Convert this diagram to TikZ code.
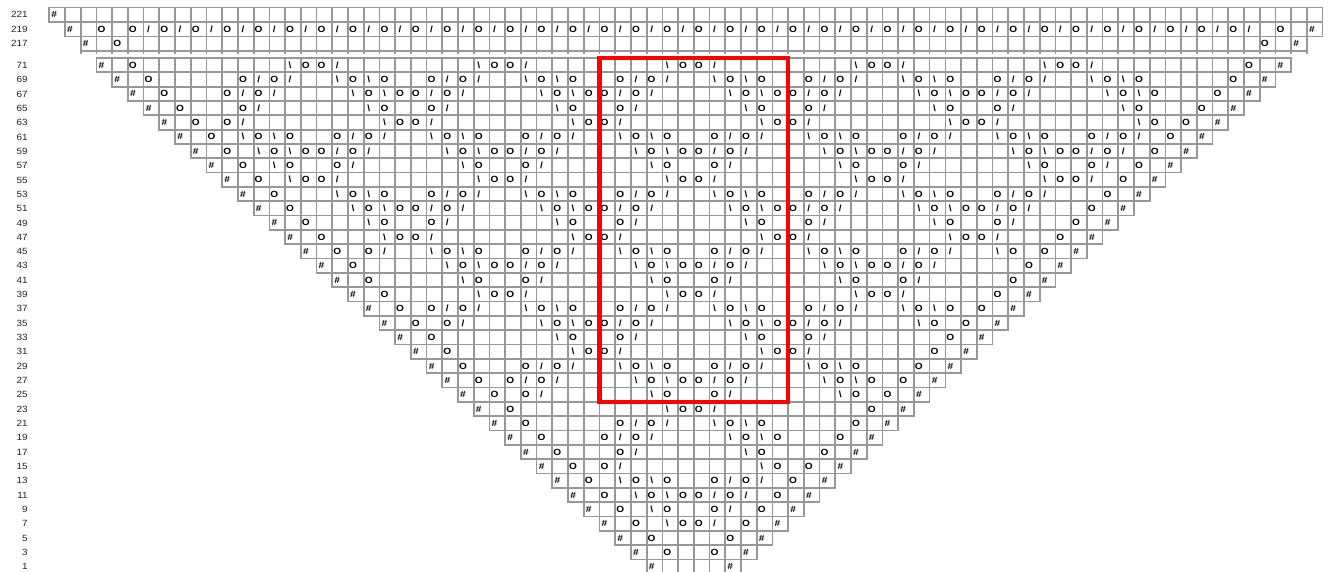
\documentclass[tikz,border=0pt]{standalone}
\usepackage{fontspec}
\setmainfont{Liberation Sans}
\newfontfamily\glyfont{Liberation Sans}[FakeStretch=1.12]
\newfontfamily\labfont{Liberation Sans}[FakeStretch=1.1]
\definecolor{gridgray}{HTML}{979797}
\definecolor{labgray}{HTML}{222222}
\def\XO{49.3}
\def\CW{15.72}
\newcommand\placeglyph[1]{%
  \pgfmathsetmacro\gxx{\XO+\CW*\mypc+5.0}%
  \if#1h\node[gly] (g\rowname-\mypc) at (\gxx,\gyy) {\#};\fi
  \if#1o\node[gly] (g\rowname-\mypc) at (\gxx,\gyy) {O};\fi
  \if#1l\node[gly] (g\rowname-\mypc) at (\gxx,\gyy) {/};\fi
  \if#1r\node[gly] (g\rowname-\mypc) at (\gxx,\gyy) {\textbackslash};\fi
}
\def\placechars#1{\ifx#1\relax\else\placeglyph{#1}\pgfmathtruncatemacro\mypc{\mypc+1}\expandafter\placechars\fi}
\def\placestr#1#2{\edef\mypc{#1}\expandafter\placechars#2\relax}
\newcommand\chartrow[6]{%
  \pgfmathsetmacro\rTop{#2}%
  \pgfmathsetmacro\rBot{#2+#3}%
  \pgfmathsetmacro\rMid{#2+#3/2}%
  \pgfmathsetmacro\gyy{\rMid+3.1}%
  \pgfmathsetmacro\rXa{\XO+\CW*#4}%
  \pgfmathsetmacro\rXb{\XO+\CW*(#5+1)}%
  \pgfmathtruncatemacro\rEnd{#5+1}%
  \def\rowname{#1}%
  \draw[gridl] (\rXa,\rTop) -- (\rXb,\rTop) (\rXa,\rBot) -- (\rXb,\rBot)
     foreach \cc in {#4,...,\rEnd}{({\XO+\CW*\cc},\rTop) -- ({\XO+\CW*\cc},\rBot)};
  \node[rowlab] (lab#1) at (27.8,\rMid+3.2) {#1};
  \foreach \cpos/\cstr in {#6}{\placestr{\cpos}{\cstr}}%
}
\newcommand\mainrow[3]{%
  \pgfmathtruncatemacro\mCa{3+#1}\pgfmathtruncatemacro\mCb{78-#1}%
  \pgfmathtruncatemacro\mOa{5+#1}\pgfmathtruncatemacro\mOb{76-#1}%
  \edef\mytmp{\noexpand\chartrow{#2}{58+14.33*#1}{14.33}{\mCa}{\mCb}{\mCa/h,\mOa/o,\mOb/o,\mCb/h#3}}%
  \mytmp}
\begin{document}
\begin{tikzpicture}[x=1pt,y=-1pt,
  gridl/.style={draw=gridgray,line width=1.7pt,line cap=rect},
  gly/.style={inner sep=0pt,anchor=base,font={\fontsize{9}{10}\glyfont\bfseries}},
  rowlab/.style={inner sep=0pt,anchor=base east,text=labgray,font={\fontsize{9}{10}\labfont}},
  redbox/.style={draw=red,line width=4.3pt}]
\useasboundingbox (0,0) rectangle (1333,571);
\chartrow{221}{7.5}{14.5}{0}{80}{0/h}
\chartrow{219}{22}{14.5}{1}{80}{1/h,3/o,5/olololol,13/olololol,21/olololol,29/olololol,37/olololol,45/olololol,53/olololol,61/olololol,69/olololol,78/o,80/h}
\chartrow{217}{36.5}{14.5}{2}{79}{2/h,4/o,77/o,79/h}
\draw[gridl] foreach \cc in {2,...,80} {({\XO+\CW*\cc},51) -- ({\XO+\CW*\cc},53)};
\mainrow{0}{71}{,15/rool,27/rool,39/rool,51/rool,63/rool}
\mainrow{1}{69}{,12/olol,18/roro,24/olol,30/roro,36/olol,42/roro,48/olol,54/roro,60/olol,66/roro}
\mainrow{2}{67}{,11/olol,19/roroolol,31/roroolol,43/roroolol,55/roroolol,67/roro}
\mainrow{3}{65}{,12/ol,20/ro,24/ol,32/ro,36/ol,44/ro,48/ol,56/ro,60/ol,68/ro}
\mainrow{4}{63}{,11/ol,21/rool,33/rool,45/rool,57/rool,69/ro}
\mainrow{5}{61}{,12/roro,18/olol,24/roro,30/olol,36/roro,42/olol,48/roro,54/olol,60/roro,66/olol}
\mainrow{6}{59}{,13/roroolol,25/roroolol,37/roroolol,49/roroolol,61/roroolol}
\mainrow{7}{57}{,14/ro,18/ol,26/ro,30/ol,38/ro,42/ol,50/ro,54/ol,62/ro,66/ol}
\mainrow{8}{55}{,15/rool,27/rool,39/rool,51/rool,63/rool}
\mainrow{9}{53}{,18/roro,24/olol,30/roro,36/olol,42/roro,48/olol,54/roro,60/olol}
\mainrow{10}{51}{,19/roroolol,31/roroolol,43/roroolol,55/roroolol}
\mainrow{11}{49}{,20/ro,24/ol,32/ro,36/ol,44/ro,48/ol,56/ro,60/ol}
\mainrow{12}{47}{,21/rool,33/rool,45/rool,57/rool}
\mainrow{13}{45}{,20/ol,24/roro,30/olol,36/roro,42/olol,48/roro,54/olol,60/ro}
\mainrow{14}{43}{,25/roroolol,37/roroolol,49/roroolol}
\mainrow{15}{41}{,26/ro,30/ol,38/ro,42/ol,50/ro,54/ol}
\mainrow{16}{39}{,27/rool,39/rool,51/rool}
\mainrow{17}{37}{,24/olol,30/roro,36/olol,42/roro,48/olol,54/roro}
\mainrow{18}{35}{,25/ol,31/roroolol,43/roroolol,55/ro}
\mainrow{19}{33}{,32/ro,36/ol,44/ro,48/ol}
\mainrow{20}{31}{,33/rool,45/rool}
\mainrow{21}{29}{,30/olol,36/roro,42/olol,48/roro}
\mainrow{22}{27}{,29/olol,37/roroolol,49/roro}
\mainrow{23}{25}{,30/ol,38/ro,42/ol,50/ro}
\mainrow{24}{23}{,39/rool}
\mainrow{25}{21}{,36/olol,42/roro}
\mainrow{26}{19}{,35/olol,43/roro}
\mainrow{27}{17}{,36/ol,44/ro}
\mainrow{28}{15}{,35/ol,45/ro}
\mainrow{29}{13}{,36/roro,42/olol}
\mainrow{30}{11}{,37/roroolol}
\mainrow{31}{9}{,38/ro,42/ol}
\mainrow{32}{7}{,39/rool}
\mainrow{33}{5}{}
\mainrow{34}{3}{}
\chartrow{1}{58+14.33*35}{14.33}{38}{43}{38/h,43/h}
\draw[redbox] ({\XO+\CW*35},58) rectangle ({\XO+\CW*47},{58+14.33*24});
\end{tikzpicture}
\end{document}
